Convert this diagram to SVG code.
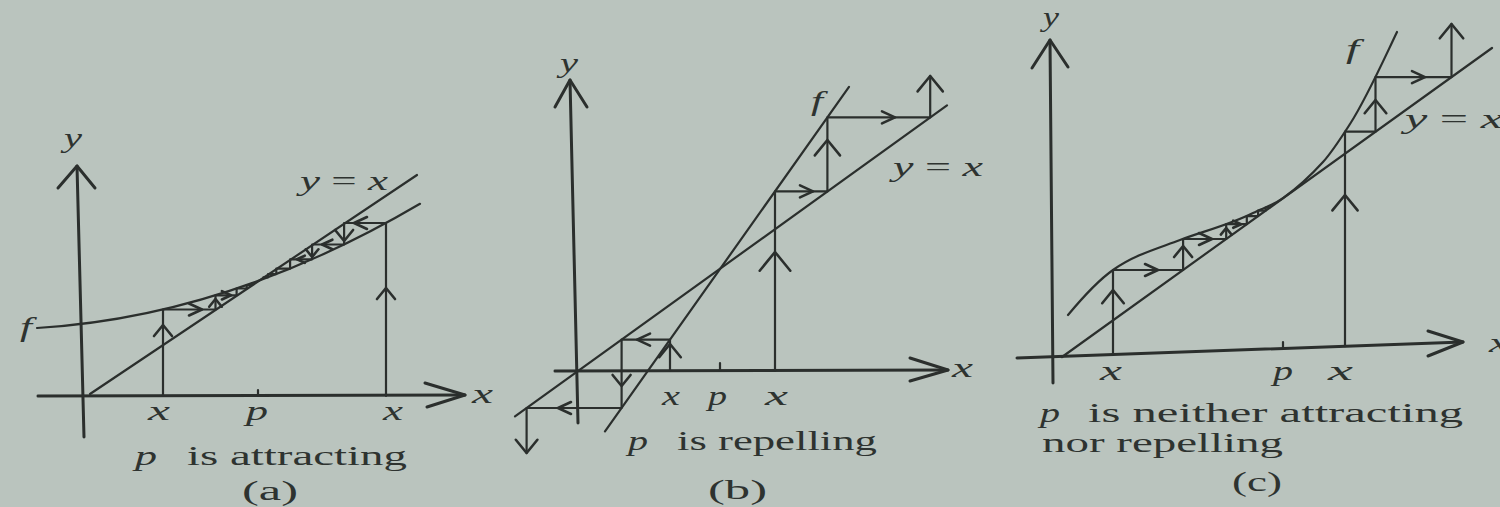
<svg xmlns="http://www.w3.org/2000/svg" xmlns:xlink="http://www.w3.org/1999/xlink" width="1500" height="507" viewBox="0 0 1500 507">
<style>
.ln{stroke:#2b2f2d;stroke-width:2.2;fill:none;stroke-linecap:round;stroke-linejoin:round}
.ax{stroke:#2b2f2d;stroke-width:3;fill:none;stroke-linecap:round;stroke-linejoin:round}
.ah{stroke:#2b2f2d;stroke-width:2.6;fill:none;stroke-linecap:round;stroke-linejoin:round;vector-effect:non-scaling-stroke}
text{font-family:"Liberation Serif","Times New Roman",serif;fill:#2e3330;font-size:28px}
.it{font-style:italic}
</style>
<defs>
<path id="aR" class="ah" d="M-13,-6 L0,0 L-13,6"/>
<path id="aL" class="ah" d="M13,-6 L0,0 L13,6"/>
<path id="aU" class="ah" d="M-9,11 L0,0 L9,11"/>
<path id="aD" class="ah" d="M-9,-11 L0,0 L9,-11"/>
</defs>
<rect width="1500" height="507" fill="#bac4be"/>

<g id="panel-a">
  <g id="axes-a">
    <path class="ax" d="M84,437 L77,166"/>
    <path class="ax" d="M58,188 L77,166 L95,188"/>
    <path class="ax" d="M38,396 L465,395"/>
    <path class="ax" d="M425,383 L465,395 L427,407"/>
    <path class="ln" d="M258,390 V396"/>
  </g>
  <g id="curves-a">
    <path class="ln" d="M90,394 L417,175"/>
    <path class="ln" d="M37,328 Q228.5,316.5 420,203.8"/>
  </g>
  <g id="cobweb-a">
    <path class="ln" d="M163,396 V309.5 H215.5 V295.3 H236.6 V288.5 H246.7 V285.1 H251.8 V283.3 H254.5"/>
    <path class="ln" d="M386,396 V223 H344.1 V244.5 H312.1 V259.3 H290.1 V268.6 H276.3 V274.1 H268.1 V277.3 H263.4"/>
    <use href="#aU" transform="translate(163,325)"/>
    <use href="#aR" transform="translate(202,309.5)"/>
    <use href="#aU" transform="translate(215.5,299) scale(0.7)"/>
    <use href="#aR" transform="translate(231,295.3) scale(0.7)"/>
    <use href="#aU" transform="translate(386,288)"/>
    <use href="#aL" transform="translate(354,223)"/>
    <use href="#aD" transform="translate(344.1,241)"/>
    <use href="#aL" transform="translate(322,244.5) scale(0.8)"/>
    <use href="#aD" transform="translate(312.1,257) scale(0.7)"/>
    <use href="#aL" transform="translate(297,259.3) scale(0.6)"/>
  </g>
  <g id="labels-a">
    <text class="it" x="64" y="147" textLength="18" lengthAdjust="spacingAndGlyphs">y</text>
    <text x="300" y="190" textLength="88" lengthAdjust="spacingAndGlyphs"><tspan class="it">y</tspan> = <tspan class="it">x</tspan></text>
    <text class="it" x="20" y="336" font-size="30" textLength="12" lengthAdjust="spacingAndGlyphs">f</text>
    <text class="it" x="472" y="403" textLength="21" lengthAdjust="spacingAndGlyphs">x</text>
    <text class="it" x="148" y="420" textLength="22" lengthAdjust="spacingAndGlyphs">x</text>
    <text class="it" x="246" y="420" textLength="22" lengthAdjust="spacingAndGlyphs">p</text>
    <text class="it" x="383" y="420" textLength="20" lengthAdjust="spacingAndGlyphs">x</text>
    <text class="it" x="135" y="465" font-size="29" textLength="22" lengthAdjust="spacingAndGlyphs">p</text>
    <text x="187" y="465" font-size="29" textLength="220" lengthAdjust="spacingAndGlyphs">is attracting</text>
    <text x="242" y="500" font-size="29" textLength="56" lengthAdjust="spacingAndGlyphs">(a)</text>
  </g>
</g>

<g id="panel-b">
  <g id="axes-b">
    <path class="ax" d="M578,423 L570,80"/>
    <path class="ax" d="M555,107 L570,80 L587,107"/>
    <path class="ax" d="M555,371 L948,370"/>
    <path class="ax" d="M910,358 L948,370 L910,381"/>
    <path class="ln" d="M720,363 V371"/>
  </g>
  <g id="curves-b">
    <path class="ln" d="M515,416.4 L947,105.3"/>
    <path class="ln" d="M605,431.4 L849,86.9"/>
  </g>
  <g id="cobweb-b">
    <path class="ln" d="M775,371 V191.4 H827.4 V117.4 H930.2 V76"/>
    <path class="ln" d="M670,371 V339.6 H621.6 V408 H526.6 V453"/>
    <use href="#aU" transform="translate(775,252) scale(1.7)"/>
    <use href="#aR" transform="translate(813,191.4)"/>
    <use href="#aU" transform="translate(827.4,140) scale(1.4)"/>
    <use href="#aR" transform="translate(895,117.4)"/>
    <use href="#aU" transform="translate(930.2,76) scale(1.4)"/>
    <use href="#aU" transform="translate(670,344) scale(1.2)"/>
    <use href="#aL" transform="translate(637,339.6)"/>
    <use href="#aD" transform="translate(621.6,386)"/>
    <use href="#aL" transform="translate(558,408)"/>
    <use href="#aD" transform="translate(526.6,453) scale(1.2)"/>
  </g>
  <g id="labels-b">
    <text class="it" x="560" y="72" textLength="18" lengthAdjust="spacingAndGlyphs">y</text>
    <text class="it" x="811" y="110" font-size="30" textLength="12" lengthAdjust="spacingAndGlyphs">f</text>
    <text x="893" y="176" textLength="90" lengthAdjust="spacingAndGlyphs"><tspan class="it">y</tspan> = <tspan class="it">x</tspan></text>
    <text class="it" x="952" y="377" textLength="21" lengthAdjust="spacingAndGlyphs">x</text>
    <text class="it" x="662" y="405" textLength="18" lengthAdjust="spacingAndGlyphs">x</text>
    <text class="it" x="708" y="405" textLength="19" lengthAdjust="spacingAndGlyphs">p</text>
    <text class="it" x="765" y="405" textLength="23" lengthAdjust="spacingAndGlyphs">x</text>
    <text class="it" x="628" y="450" font-size="29" textLength="20" lengthAdjust="spacingAndGlyphs">p</text>
    <text x="677" y="450" font-size="29" textLength="200" lengthAdjust="spacingAndGlyphs">is repelling</text>
    <text x="708" y="499" font-size="29" textLength="59" lengthAdjust="spacingAndGlyphs">(b)</text>
  </g>
</g>

<g id="panel-c">
  <g id="axes-c">
    <path class="ax" d="M1053,383 L1050,40"/>
    <path class="ax" d="M1032,68 L1050,40 L1068,67"/>
    <path class="ax" d="M1017,358 L1463,342"/>
    <path class="ax" d="M1428,331 L1463,342 L1428,356"/>
    <path class="ln" d="M1283,342 V348.5"/>
  </g>
  <g id="curves-c">
    <path class="ln" d="M1062,357 L1492,48"/>
    <path class="ln" d="M1068,315 C1083,297 1098,280.5 1113,270 C1135.3,254.4 1157.7,248.5 1180,240 C1204.3,230.8 1228.7,225.2 1253,213 C1263,208 1273,205.4 1283,198.2 C1296.3,188.6 1309.7,176.7 1323,162 C1332,152.1 1341,138 1350,124 C1365.7,99.7 1381.3,64.9 1397,32"/>
  </g>
  <g id="cobweb-c">
    <path class="ln" d="M1113,354.6 V270 H1183.1 V239 H1226.2 V224.2 H1246.8 V216.1 H1258.1 V210.7 H1265.6 V207.5 H1270"/>
    <path class="ln" d="M1345,346.2 V131.7 H1375.5 V77.1 H1451.5 V24"/>
    <use href="#aU" transform="translate(1113,290) scale(1.2)"/>
    <use href="#aR" transform="translate(1158,270)"/>
    <use href="#aU" transform="translate(1183.1,246)"/>
    <use href="#aR" transform="translate(1212,239)"/>
    <use href="#aU" transform="translate(1226.2,228) scale(0.6)"/>
    <use href="#aR" transform="translate(1241,224.2) scale(0.6)"/>
    <use href="#aU" transform="translate(1345,195) scale(1.4)"/>
    <use href="#aU" transform="translate(1375.5,100) scale(1.2)"/>
    <use href="#aR" transform="translate(1425,77.1)"/>
    <use href="#aU" transform="translate(1451.5,24) scale(1.3)"/>
  </g>
  <g id="labels-c">
    <text class="it" x="1043" y="26" textLength="16" lengthAdjust="spacingAndGlyphs">y</text>
    <text class="it" x="1346" y="58" font-size="30" textLength="13" lengthAdjust="spacingAndGlyphs">f</text>
    <text x="1405" y="128" textLength="98" lengthAdjust="spacingAndGlyphs"><tspan class="it">y</tspan> = <tspan class="it">x</tspan></text>
    <text class="it" x="1489" y="352" textLength="20" lengthAdjust="spacingAndGlyphs">x</text>
    <text class="it" x="1100" y="380" textLength="22" lengthAdjust="spacingAndGlyphs">x</text>
    <text class="it" x="1273" y="380" textLength="20" lengthAdjust="spacingAndGlyphs">p</text>
    <text class="it" x="1328" y="380" textLength="25" lengthAdjust="spacingAndGlyphs">x</text>
    <text class="it" x="1040" y="422" font-size="29" textLength="20" lengthAdjust="spacingAndGlyphs">p</text>
    <text x="1088" y="422" font-size="29" textLength="375" lengthAdjust="spacingAndGlyphs">is neither attracting</text>
    <text x="1042" y="452" font-size="29" textLength="241" lengthAdjust="spacingAndGlyphs">nor repelling</text>
    <text x="1232" y="491" font-size="29" textLength="50" lengthAdjust="spacingAndGlyphs">(c)</text>
  </g>
</g>
</svg>
